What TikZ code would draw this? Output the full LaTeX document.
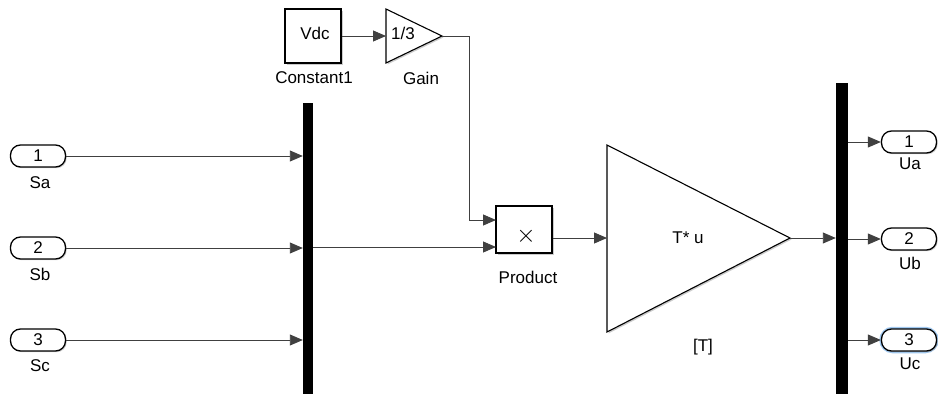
\documentclass[tikz,border=0pt]{standalone}
\usepackage{fontspec}
\setmainfont{Liberation Sans}
\usetikzlibrary{arrows.meta,shadows}
\definecolor{selblue}{RGB}{160,200,240}
\begin{document}
\begin{tikzpicture}[x=1pt,y=-1pt,
  font=\fontsize{17}{19}\selectfont,
  sig/.style={draw=black!75,line width=0.9pt,-{Triangle[length=13pt,width=11pt]},shorten >=0pt},
  port/.style={draw,line width=1.3pt,rounded corners=10pt,minimum width=55pt,minimum height=22pt,inner sep=0pt,fill=white,
    drop shadow={shadow xshift=1.2pt,shadow yshift=-1.2pt,fill=black!40,opacity=0.5}},
  blk/.style={draw,line width=1.1pt,fill=white,inner sep=0pt,
    drop shadow={shadow xshift=1.5pt,shadow yshift=-1.5pt,fill=black!40,opacity=0.5}},
  tri/.style={draw,line width=1.1pt,fill=white,line join=miter,
    drop shadow={shadow xshift=1.5pt,shadow yshift=-1.5pt,fill=black!40,opacity=0.5}},
  bar/.style={fill=black,inner sep=0pt,minimum width=10pt},
  lbl/.style={inner sep=0pt,anchor=center}]
\useasboundingbox (0,0) rectangle (938,394);

% input ports
\node[port] (sa) at (38,156) {1};
\node[port] (sb) at (38,248) {2};
\node[port] (sc) at (38,340) {3};
\node[lbl] (sal) at (40,183) {Sa};
\node[lbl] (sbl) at (40,274) {Sb};
\node[lbl] (scl) at (40,366) {Sc};

% demux / mux bars
\node[bar,minimum height=291pt] (mux1) at (308,248.5) {};
\node[bar,minimum height=311pt,minimum width=12pt] (mux2) at (842,238.5) {};

% constant and gain
\node[blk,minimum width=56pt,minimum height=54pt] (const) at (313,36) {};
\node[lbl] at (315,33) {Vdc};
\node[lbl] (constl) at (314,78) {Constant1};
\draw[tri] (386,9) -- (442,36) -- (386,63) -- cycle;
\coordinate (gin) at (386,36);
\coordinate (gout) at (442,36);
\node[lbl] at (403,33) {1/3};
\node[lbl] (gainl) at (421,78) {Gain};

% product
\node[blk,minimum width=56pt,minimum height=47pt] (prod) at (524,229.5) {};
\node[lbl,font=\fontsize{26}{26}\selectfont] at (526,236) {$\times$};
\node[lbl] (prodl) at (528,277) {Product};
\coordinate (pin1) at (496,220);
\coordinate (pin2) at (496,247);

% matrix gain
\draw[tri] (607,145) -- (790,238) -- (607,332) -- cycle;
\coordinate (tin) at (607,238);
\coordinate (tout) at (790,238);
\node[lbl] at (688,238) {T* u};
\node[lbl] (tl) at (703,347) {[T]};

% output ports
\node[port] (ua) at (909,142) {1};
\node[port] (ub) at (909,239) {2};
\draw[draw=selblue,line width=4.5pt,rounded corners=11pt] (881.5,329) rectangle (936.5,351);
\node[port] (uc) at (909,340) {3};
\node[lbl] (ual) at (910,164) {Ua};
\node[lbl] (ubl) at (910,263) {Ub};
\node[lbl] (ucl) at (910,364) {Uc};

% signal lines
\draw[sig] (sa.east) -- (sa.east -| mux1.west);
\draw[sig] (sb.east) -- (sb.east -| mux1.west);
\draw[sig] (sc.east) -- (sc.east -| mux1.west);
\draw[sig] (const.east) -- (gin);
\draw[sig] (gout) -- (469,36) -- (469,220) -- (pin1);
\draw[sig] (mux1.east |- pin2) -- (pin2);
\draw[sig] (prod.east |- tin) -- (tin);
\draw[sig] (tout) -- (tout -| mux2.west);
\draw[sig] (mux2.east |- ua.west) -- (ua.west);
\draw[sig] (mux2.east |- ub.west) -- (ub.west);
\draw[sig] (mux2.east |- uc.west) -- (uc.west);
\end{tikzpicture}
\end{document}
